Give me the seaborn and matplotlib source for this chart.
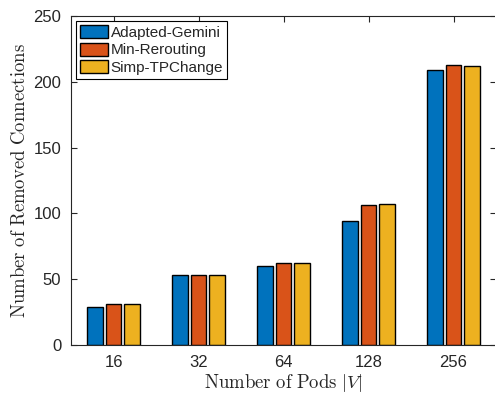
import matplotlib
matplotlib.use("Agg")
import matplotlib.pyplot as plt
import seaborn as sns
import pandas as pd

pods = ["16", "32", "64", "128", "256"]
adapted_gemini = [29, 53, 60, 94, 209]
min_rerouting = [31, 53.5, 62.5, 106.5, 212.5]
simp_tpchange = [31, 53.5, 62.5, 107, 212]
methods = ["Adapted-Gemini", "Min-Rerouting", "Simp-TPChange"]
colors = ["#0072BD", "#D95319", "#EDB120"]

df = pd.DataFrame({
    "pods": pods * 3,
    "method": [m for m in methods for _ in pods],
    "removed": adapted_gemini + min_rerouting + simp_tpchange,
})

sns.set_theme(style="white")
plt.rcParams["font.family"] = ["Liberation Sans", "DejaVu Sans"]
plt.rcParams["mathtext.fontset"] = "cm"

fig = plt.figure(figsize=(4.95, 3.98), dpi=100)
ax = fig.add_axes([71 / 495, 53 / 398, 425 / 495, 329 / 398])

sns.barplot(data=df, x="pods", y="removed", hue="method", order=pods,
            hue_order=methods, palette=colors, width=0.667, gap=0.16,
            edgecolor="black", linewidth=1.0, saturation=1, ax=ax)

ax.set_xlim(-0.5, 4.5)
ax.set_ylim(0, 250)
ax.set_yticks([0, 50, 100, 150, 200, 250])
ax.tick_params(direction="in", length=4, width=0.8, colors="#262626",
               labelsize=12, top=True, right=True, bottom=True, left=True,
               pad=7)
for s in ax.spines.values():
    s.set_color("#262626")
    s.set_linewidth(0.8)

ax.set_xlabel(r"$\mathrm{Number\ of\ Pods}\ |V|$", fontsize=13.5,
              color="#262626", labelpad=2)
ax.set_ylabel(r"$\mathrm{Number\ of\ Removed\ Connections}$", fontsize=13.5,
              color="#262626", labelpad=3)

leg = ax.legend(loc="upper left", fontsize=11, frameon=True, fancybox=False,
                edgecolor="black", framealpha=1, borderpad=0.25,
                handlelength=1.8, handleheight=0.9, handletextpad=0.2,
                labelspacing=0.2, borderaxespad=0.35)
leg.get_frame().set_linewidth(0.8)

fig.savefig("out.png", dpi=100)
